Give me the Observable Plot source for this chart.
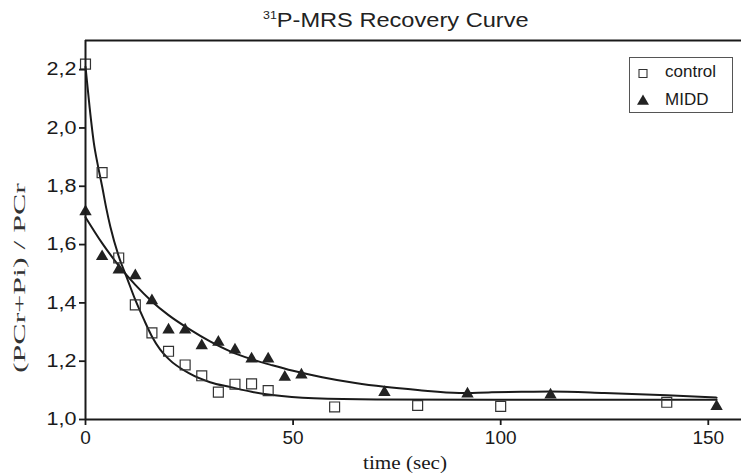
<!DOCTYPE html>
<html><head><meta charset="utf-8">
<script src="https://cdn.jsdelivr.net/npm/d3@7"></script>
<script src="https://cdn.jsdelivr.net/npm/@observablehq/plot@0.6"></script>
<style>
body{margin:0;background:#fff;}
#wrap{position:relative;width:741px;height:474px;overflow:hidden;background:#fff;}
#title{position:absolute;left:263px;top:10px;font-family:"Liberation Sans",Arial,Helvetica,sans-serif;font-size:20px;line-height:20px;white-space:nowrap;transform-origin:0 0;transform:scaleX(1.18);color:#222;z-index:2}
#title sup{font-size:10.5px;vertical-align:baseline;position:relative;top:-8px;}
#wrap svg{position:absolute;left:0;top:0;}
</style></head><body>
<div id="wrap"><div id="title"><sup>31</sup>P-MRS Recovery Curve</div></div>
<script>
// ---- data ----
const seriesNames = ["control", "MIDD"];
const controlTime  = [0, 4, 8, 12, 16, 20, 24, 28, 32, 36, 40, 44, 60, 80, 100, 140];
const controlValue = [2.219, 1.847, 1.554, 1.393, 1.297, 1.234, 1.187, 1.150, 1.094, 1.121, 1.122, 1.099, 1.043, 1.048, 1.045, 1.059];
const middTime  = [0, 4, 8, 12, 16, 20, 24, 28, 32, 36, 40, 44, 48, 52, 72, 92, 112, 152];
const middValue = [1.713, 1.559, 1.513, 1.493, 1.408, 1.307, 1.307, 1.253, 1.265, 1.239, 1.208, 1.208, 1.145, 1.153, 1.093, 1.088, 1.084, 1.045];
// fitted recovery curves
const controlFitTime  = [0, 1, 2, 3, 4, 5, 6, 8, 10, 12, 14, 16, 18, 20, 25, 30, 35, 40, 45, 55, 70, 100, 152];
const controlFitValue = [2.21, 2.07, 1.95, 1.87, 1.80, 1.725, 1.66, 1.56, 1.485, 1.41, 1.345, 1.285, 1.24, 1.208, 1.158, 1.128, 1.111, 1.095, 1.084, 1.073, 1.069, 1.068, 1.068];
const middFitTime  = [0, 4, 8, 12, 16, 20, 25, 30, 35, 40, 45, 50, 57, 65, 72, 80, 90, 97, 105, 112, 125, 140, 152];
const middFitValue = [1.694, 1.605, 1.528, 1.462, 1.405, 1.358, 1.31, 1.268, 1.233, 1.207, 1.186, 1.167, 1.145, 1.125, 1.112, 1.101, 1.091, 1.093, 1.095, 1.096, 1.091, 1.083, 1.075];
const xTicks = [0, 50, 100, 150];
const yTicks = [1.0, 1.2, 1.4, 1.6, 1.8, 2.0, 2.2];
const yTickLabels = ["1,0", "1,2", "1,4", "1,6", "1,8", "2,0", "2,2"];
const xLabel = "time (sec)";
const yLabel = "(PCr+Pi) / PCr";

// ---- tables ----
const control = controlTime.map((t, i) => ({t, v: controlValue[i]}));
const midd = middTime.map((t, i) => ({t, v: middValue[i]}));
const controlFit = controlFitTime.map((t, i) => ({t, v: controlFitValue[i]}));
const middFit = middFitTime.map((t, i) => ({t, v: middFitValue[i]}));

const xDomain = [0, 158];
const yDomain = [1.0, 2.3];
const ink = "#1a1a1a";

const plot = Plot.plot({
  width: 741, height: 474,
  marginLeft: 85, marginRight: 0, marginTop: 40, marginBottom: 55,
  style: {fontFamily: '"Liberation Sans", Arial, Helvetica, sans-serif', fontSize: "19px", color: ink, background: "white", overflow: "visible"},
  x: {domain: xDomain},
  y: {domain: yDomain},
  marks: [
    Plot.line(controlFit, {x: "t", y: "v", curve: "monotone-x", stroke: ink, strokeWidth: 2}),
    Plot.line(middFit, {x: "t", y: "v", curve: "monotone-x", stroke: ink, strokeWidth: 2}),
    Plot.dot(control, {x: "t", y: "v", symbol: "square", r: 5.6, fill: "none", stroke: "#333", strokeWidth: 1.2}),
    Plot.dot(midd, {x: "t", y: "v", symbol: "triangle", r: 4.6, fill: "#222", stroke: "none"}),
    Plot.ruleX([xDomain[0]], {stroke: ink, strokeWidth: 2}),
    Plot.ruleY([yDomain[0]], {stroke: ink, strokeWidth: 2}),
    Plot.ruleY([yDomain[1]], {stroke: ink, strokeWidth: 2}),
    Plot.axisX({ticks: xTicks, tickSize: 6, tickPadding: 5, label: null, fontSize: 19, strokeWidth: 1.8}),
    Plot.axisY({ticks: yTicks, tickFormat: d => yTickLabels[yTicks.indexOf(d)], tickSize: 6, tickPadding: 3, label: null, fontSize: 18, strokeWidth: 1.8})
  ]
});
document.getElementById("wrap").appendChild(plot);

const svg = d3.select(plot);
svg.selectAll('g[aria-label="y-axis tick label"] text')
  .attr("textLength", 30).attr("lengthAdjust", "spacingAndGlyphs");

// axis titles
svg.append("text")
  .attr("transform", "translate(25,278) rotate(-90)")
  .attr("text-anchor", "middle")
  .attr("font-family", '"Liberation Serif", "Times New Roman", serif')
  .attr("font-size", 17).attr("fill", "#333")
  .attr("textLength", 190).attr("lengthAdjust", "spacingAndGlyphs")
  .text(yLabel);
svg.append("text")
  .attr("transform", "translate(405,469)")
  .attr("text-anchor", "middle")
  .attr("font-family", '"Liberation Serif", "Times New Roman", serif')
  .attr("font-size", 18).attr("fill", ink)
  .attr("textLength", 84).attr("lengthAdjust", "spacingAndGlyphs")
  .text(xLabel);

// legend
const lg = svg.append("g");
lg.append("rect").attr("x", 629.5).attr("y", 57.5).attr("width", 103).attr("height", 55)
  .attr("fill", "white").attr("stroke", "#555").attr("stroke-width", 1);
lg.append("path").attr("transform", "translate(643,73.5)")
  .attr("d", d3.symbol(d3.symbolSquare, 64)()).attr("fill", "none").attr("stroke", "#333").attr("stroke-width", 1.1);
lg.append("path").attr("transform", "translate(643,101.3)")
  .attr("d", d3.symbol(d3.symbolTriangle, 62)()).attr("fill", "#222");
seriesNames.forEach((name, i) => {
  lg.append("text").attr("x", 665).attr("y", 77 + i * 28)
    .attr("text-anchor", "start")
    .attr("font-family", '"Liberation Sans", Arial, Helvetica, sans-serif')
    .attr("font-size", 17).attr("fill", ink).text(name);
});
</script>
</body></html>
